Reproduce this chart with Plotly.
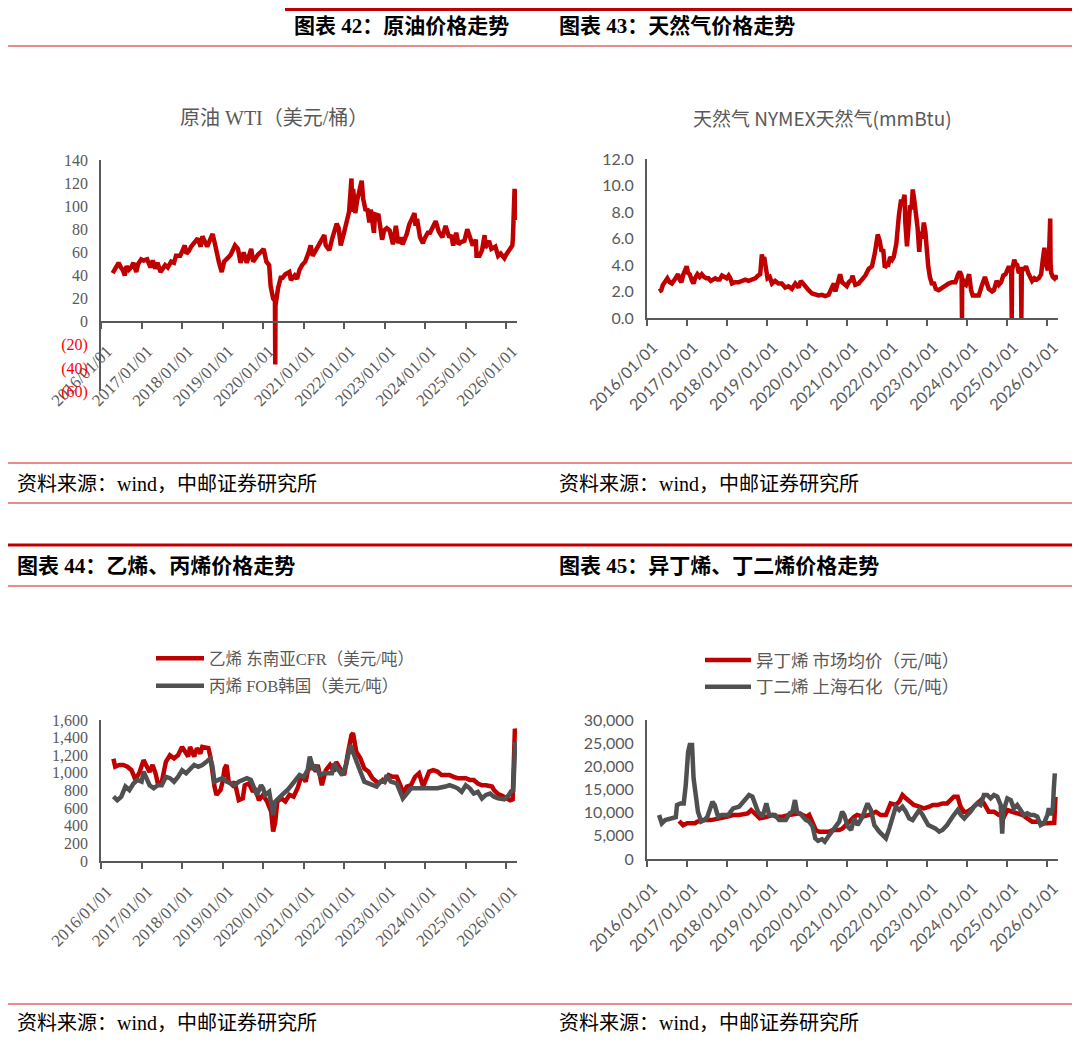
import plotly.graph_objs as go

# the page body keeps an 8px margin, so the figure is drawn 8px in from the window edge
OFF = 8
W, H = 1080 - OFF, 1048 - OFF
RED = '#C00000'
GREY = '#505050'
TXT = '#595959'
RULE = '#E06666'
SERIF = 'Liberation Serif, Noto Sans CJK SC'
SANS = 'Lato, Noto Sans CJK SC'
CJK = 'Noto Sans CJK SC'


def fx(x):  # window pixel -> paper x
    return (x - OFF) / W


def fy(y):  # window pixel -> paper y
    return 1 - (y - OFF) / H


years = list(range(2016, 2027))
tick_vals = ['%d-01-01' % y for y in years]
tick_text = ['%d/01/01' % y for y in years]
x_range = ['2016-01-01', '2026-04-08']

# ---- WTI crude (USD/bbl)
wti_dates = [
    '2016-04-15', '2016-05-01', '2016-05-20', '2016-06-08', '2016-06-28', '2016-07-15', '2016-08-02',
    '2016-08-18', '2016-09-08', '2016-09-28', '2016-10-19', '2016-11-14', '2016-12-01', '2016-12-28',
    '2017-01-20', '2017-02-20', '2017-03-22', '2017-04-12', '2017-05-04', '2017-05-24', '2017-06-21',
    '2017-07-14', '2017-08-01', '2017-08-25', '2017-09-25', '2017-10-20', '2017-11-07', '2017-12-15',
    '2018-01-25', '2018-02-09', '2018-03-02', '2018-03-23', '2018-04-18', '2018-05-22', '2018-06-18',
    '2018-07-03', '2018-08-15', '2018-09-05', '2018-10-03', '2018-10-25', '2018-11-15', '2018-11-30',
    '2018-12-24',
    '2019-01-15', '2019-02-15', '2019-03-15', '2019-04-23', '2019-05-20', '2019-06-12', '2019-07-10',
    '2019-08-07', '2019-09-16', '2019-10-03', '2019-11-15', '2019-12-20',
    '2020-01-06', '2020-01-31', '2020-02-25', '2020-03-09', '2020-03-20', '2020-04-01', '2020-04-17',
    '2020-04-20', '2020-04-22', '2020-04-30', '2020-05-15', '2020-06-08', '2020-06-25', '2020-07-20',
    '2020-08-25', '2020-09-08', '2020-10-12', '2020-11-02', '2020-11-25', '2020-12-18',
    '2021-01-15', '2021-02-15', '2021-03-05', '2021-03-23', '2021-04-20', '2021-05-18', '2021-06-15',
    '2021-07-06', '2021-07-19', '2021-08-20', '2021-09-15', '2021-10-26', '2021-11-12', '2021-12-01',
    '2021-12-28',
    '2022-01-26', '2022-02-14', '2022-03-08', '2022-03-16', '2022-03-23', '2022-04-11', '2022-04-28',
    '2022-05-17', '2022-06-08', '2022-06-22', '2022-07-14', '2022-07-29', '2022-08-16', '2022-08-29',
    '2022-09-26', '2022-10-07', '2022-11-07', '2022-12-09', '2022-12-28',
    '2023-01-20', '2023-02-15', '2023-03-17', '2023-04-12', '2023-05-03', '2023-05-26', '2023-06-12',
    '2023-07-20', '2023-08-10', '2023-09-27', '2023-10-06', '2023-10-20', '2023-11-16', '2023-12-12',
    '2023-12-28',
    '2024-01-25', '2024-02-14', '2024-03-19', '2024-04-05', '2024-05-03', '2024-06-04', '2024-07-03',
    '2024-08-05', '2024-08-23', '2024-09-10', '2024-10-07', '2024-10-28', '2024-11-20', '2024-12-20',
    '2025-01-15', '2025-02-10', '2025-03-05', '2025-04-02', '2025-04-08', '2025-05-05', '2025-05-28',
    '2025-06-20', '2025-06-25', '2025-07-30', '2025-08-20', '2025-09-25', '2025-10-20', '2025-11-12',
    '2025-12-15', '2025-12-31',
    '2026-01-15', '2026-02-05', '2026-02-25', '2026-03-02', '2026-03-05', '2026-03-09', '2026-03-12',
    '2026-03-17', '2026-03-20', '2026-03-24', '2026-03-27', '2026-03-31',
]
wti_vals = [
    42, 45, 48, 51, 47, 45, 40, 48, 45, 47, 51, 43, 50, 54,
    53, 54, 47, 53, 46, 51, 43, 46, 49, 47, 52, 51, 57, 57,
    66, 59, 61, 65, 68, 72, 65, 74, 65, 69, 76, 67, 56, 51, 43,
    52, 55, 58, 66, 63, 51, 60, 51, 63, 52, 58, 61,
    63, 52, 49, 31, 22, 20, 18, -37, 14, 19, 29, 38, 38, 41, 43, 36, 40, 37, 45, 49,
    52, 60, 66, 57, 62, 65, 72, 75, 66, 62, 72, 85, 81, 66, 76,
    87, 95, 124, 95, 115, 94, 105, 112, 122, 106, 96, 98, 86, 97, 77, 93, 92, 71, 79,
    81, 79, 67, 83, 68, 73, 67, 76, 84, 94, 83, 89, 73, 68, 72,
    77, 77, 83, 87, 78, 73, 83, 73, 75, 66, 77, 67, 69, 70,
    80, 72, 66, 71, 57, 57, 62, 75, 64, 70, 63, 65, 57, 59, 55, 58,
    60, 63, 66, 72, 88, 103, 92, 115, 96, 88, 104, 114,
]

# ---- NYMEX natural gas (USD/mmBtu)
gas_dates = [
    '2016-04-20', '2016-05-10', '2016-05-25', '2016-06-15', '2016-07-05', '2016-07-25', '2016-08-15',
    '2016-09-01', '2016-09-20', '2016-10-10', '2016-10-25', '2016-11-10', '2016-11-28', '2016-12-15',
    '2016-12-28',
    '2017-01-10', '2017-01-25', '2017-02-15', '2017-02-28', '2017-03-15', '2017-04-05', '2017-04-25',
    '2017-05-15', '2017-06-05', '2017-06-25', '2017-07-15', '2017-08-05', '2017-08-25', '2017-09-15',
    '2017-10-05', '2017-10-25', '2017-11-15', '2017-12-05', '2017-12-28',
    '2018-01-15', '2018-01-30', '2018-02-15', '2018-03-15', '2018-04-15', '2018-05-15', '2018-06-15',
    '2018-07-15', '2018-08-15', '2018-09-15', '2018-10-10', '2018-10-30', '2018-11-14', '2018-11-20',
    '2018-12-05', '2018-12-20',
    '2019-01-05', '2019-01-25', '2019-02-15', '2019-03-15', '2019-04-15', '2019-05-15', '2019-06-15',
    '2019-07-15', '2019-08-15', '2019-09-15', '2019-10-15', '2019-11-05', '2019-11-25', '2019-12-15',
    '2020-01-15', '2020-02-15', '2020-03-15', '2020-04-15', '2020-05-15', '2020-06-15', '2020-07-15',
    '2020-08-15', '2020-09-01', '2020-09-15', '2020-10-05', '2020-10-28', '2020-11-15', '2020-12-05',
    '2020-12-28',
    '2021-01-15', '2021-02-10', '2021-02-17', '2021-03-15', '2021-04-15', '2021-05-15', '2021-06-15',
    '2021-07-15', '2021-08-15', '2021-09-10', '2021-09-28', '2021-10-06', '2021-10-25', '2021-11-10',
    '2021-11-25', '2021-12-10', '2021-12-28',
    '2022-01-10', '2022-01-28', '2022-02-15', '2022-03-01', '2022-03-25', '2022-04-18', '2022-05-05',
    '2022-05-25', '2022-06-08', '2022-06-15', '2022-06-24', '2022-06-30', '2022-07-15', '2022-07-28',
    '2022-08-10', '2022-08-22', '2022-09-06', '2022-09-20', '2022-10-05', '2022-10-20', '2022-11-01',
    '2022-11-15', '2022-12-01', '2022-12-15', '2022-12-28',
    '2023-01-10', '2023-01-25', '2023-02-15', '2023-03-01', '2023-03-20', '2023-04-15', '2023-05-15',
    '2023-06-15', '2023-07-15', '2023-08-15', '2023-09-15', '2023-10-10', '2023-10-25', '2023-11-10',
    '2023-11-14', '2023-11-16', '2023-12-05', '2023-12-20',
    '2024-01-10', '2024-01-18', '2024-02-05', '2024-02-20', '2024-03-15', '2024-04-15', '2024-05-15',
    '2024-06-10', '2024-06-25', '2024-07-15', '2024-08-15', '2024-09-01', '2024-09-25', '2024-10-15',
    '2024-11-05', '2024-11-25', '2024-12-15', '2024-12-30',
    '2025-01-15', '2025-02-05', '2025-02-10', '2025-02-13', '2025-03-05', '2025-03-15', '2025-04-01',
    '2025-04-15', '2025-05-05', '2025-05-09', '2025-05-13', '2025-06-05', '2025-06-20', '2025-07-10',
    '2025-07-28', '2025-08-15', '2025-09-05', '2025-09-25', '2025-10-15', '2025-11-05', '2025-11-20',
    '2025-12-05', '2025-12-15', '2025-12-30',
    '2026-01-05', '2026-01-15', '2026-01-22', '2026-01-27', '2026-01-30', '2026-02-05', '2026-02-20',
    '2026-03-05', '2026-03-15', '2026-03-25', '2026-04-01',
]
gas_vals = [
    2.0, 2.1, 2.5, 2.8, 3.0, 2.7, 2.6, 2.8, 3.1, 3.3, 2.9, 2.7, 3.3, 3.6, 3.9,
    3.4, 3.3, 2.8, 2.6, 3.0, 3.3, 3.1, 3.3, 3.1, 3.0, 3.0, 2.8, 2.9, 3.0, 2.9, 2.9, 3.2, 3.1, 3.0,
    3.2, 3.0, 2.6, 2.7, 2.7, 2.8, 2.9, 2.8, 2.9, 3.0, 3.2, 3.3, 4.8, 4.4, 4.6, 3.7,
    3.0, 3.1, 2.6, 2.8, 2.6, 2.6, 2.3, 2.4, 2.2, 2.6, 2.3, 2.8, 2.6, 2.3,
    2.1, 1.85, 1.8, 1.7, 1.75, 1.65, 1.75, 2.3, 2.6, 2.0, 2.5, 3.3, 2.7, 2.5, 2.4,
    2.7, 2.9, 3.2, 2.5, 2.6, 2.9, 3.2, 3.7, 3.9, 4.9, 5.8, 6.3, 5.8, 5.0, 5.2, 3.8, 4.0,
    4.0, 4.6, 4.4, 4.6, 5.6, 7.8, 8.8, 8.8, 9.3, 7.2, 6.2, 5.4, 7.0, 8.5, 8.2, 9.7, 8.8, 7.9, 6.8,
    5.0, 6.5, 6.0, 7.2, 6.5, 4.7,
    3.9, 3.1, 2.5, 2.7, 2.2, 2.1, 2.3, 2.5, 2.6, 2.7, 2.7, 3.3, 3.5, 3.2, 0.0, 3.0, 2.6, 2.5,
    3.1, 3.3, 2.1, 1.7, 1.7, 1.7, 2.5, 3.1, 2.7, 2.2, 2.0, 2.1, 2.8, 2.5, 2.7, 3.2, 3.3, 3.7,
    3.9, 3.4, 0.0, 3.6, 4.4, 4.1, 4.0, 3.4, 3.6, 0.0, 3.7, 3.7, 3.9, 3.4, 3.1, 2.8, 3.0, 2.9, 3.0,
    3.3, 4.4, 5.3, 4.2, 3.8,
    3.6, 4.5, 5.5, 7.5, 4.2, 3.4, 3.1, 3.0, 3.2, 3.1, 2.9,
]

# ---- ethylene CFR SE Asia / propylene FOB Korea (USD/t)
eth_dates = [
    '2016-04-22', '2016-05-08', '2016-06-14', '2016-07-20', '2016-08-26', '2016-10-02', '2016-11-07',
    '2016-12-14',
    '2017-01-19', '2017-02-14', '2017-03-14', '2017-04-10', '2017-05-08', '2017-05-27', '2017-07-02',
    '2017-08-08', '2017-09-13', '2017-10-20', '2017-11-25',
    '2018-01-01', '2018-01-30', '2018-02-25', '2018-03-14', '2018-04-20', '2018-05-15', '2018-06-14',
    '2018-07-02', '2018-08-08', '2018-08-26', '2018-09-13', '2018-10-02', '2018-10-20', '2018-11-07',
    '2018-12-14',
    '2019-01-01', '2019-01-19', '2019-02-06', '2019-02-25', '2019-04-01', '2019-04-20', '2019-05-27',
    '2019-07-02', '2019-07-20', '2019-08-26', '2019-10-02', '2019-10-20', '2019-11-25',
    '2020-01-01', '2020-02-06', '2020-03-14', '2020-04-01', '2020-04-20', '2020-05-08', '2020-06-14',
    '2020-07-20', '2020-08-26', '2020-10-02', '2020-11-07', '2020-12-14',
    '2021-01-19', '2021-02-06', '2021-03-14', '2021-04-20', '2021-05-08', '2021-06-14', '2021-07-20',
    '2021-08-26', '2021-10-02', '2021-10-20', '2021-11-25',
    '2022-01-01', '2022-02-06', '2022-03-08', '2022-03-22', '2022-04-20', '2022-05-27', '2022-07-02',
    '2022-08-08', '2022-09-13', '2022-11-07', '2022-12-14',
    '2023-01-01', '2023-02-06', '2023-03-14', '2023-04-20', '2023-05-27', '2023-06-14', '2023-07-20',
    '2023-08-26', '2023-10-02', '2023-11-07', '2023-12-14',
    '2024-01-01', '2024-02-06', '2024-03-14', '2024-04-20', '2024-05-27', '2024-07-02', '2024-08-08',
    '2024-09-13', '2024-10-20', '2024-11-25',
    '2025-01-01', '2025-02-06', '2025-03-14', '2025-04-20', '2025-05-27', '2025-07-02', '2025-08-08',
    '2025-08-26', '2025-09-13', '2025-10-20', '2025-11-25',
    '2026-01-01', '2026-02-06', '2026-02-28', '2026-03-10', '2026-03-20', '2026-03-24',
]
eth_vals = [
    1160, 1070, 1090, 1090, 1070, 1030, 920, 1010,
    1145, 1090, 1010, 1090, 990, 880, 900, 1125, 1200, 1165, 1200,
    1295, 1240, 1185, 1295, 1185, 1280, 1220, 1295, 1280, 1280, 1185, 995, 845, 750, 805,
    900, 1050, 1090, 900, 860, 900, 690, 710, 860, 880, 785, 825, 690,
    750, 675, 560, 335, 445, 675, 710, 675, 750, 730, 825, 975,
    900, 1015, 1105, 1015, 1090, 860, 1030, 1090, 1015, 1125, 1050,
    975, 1240, 1430, 1450, 1240, 1165, 1050, 1015, 940, 880, 920,
    900, 975, 955, 955, 845, 765, 845, 860, 955, 995, 845,
    900, 1015, 1030, 1015, 975, 975, 975, 955, 940, 940,
    940, 920, 920, 880, 860, 860, 845, 845, 805, 760, 740,
    720, 690, 700, 1000, 1500, 1480,
]
pro_dates = [
    '2016-04-22', '2016-05-27', '2016-07-02', '2016-08-08', '2016-09-13', '2016-10-20', '2016-11-25',
    '2017-01-01', '2017-01-19', '2017-02-14', '2017-03-14', '2017-04-20', '2017-05-27', '2017-07-02',
    '2017-08-08', '2017-09-13', '2017-10-20', '2017-11-25',
    '2018-01-01', '2018-02-06', '2018-03-14', '2018-04-20', '2018-05-27', '2018-07-02', '2018-08-08',
    '2018-09-13', '2018-10-02', '2018-10-20', '2018-11-25',
    '2019-01-01', '2019-02-06', '2019-03-14', '2019-04-20', '2019-05-27', '2019-07-02', '2019-08-08',
    '2019-09-13', '2019-10-20', '2019-11-07', '2019-12-14',
    '2020-01-01', '2020-01-19', '2020-02-25', '2020-03-14', '2020-04-01', '2020-04-20', '2020-05-27',
    '2020-07-02', '2020-08-08', '2020-09-13', '2020-10-20', '2020-11-25',
    '2021-01-01', '2021-02-06', '2021-02-25', '2021-03-14', '2021-04-01', '2021-04-20', '2021-05-27',
    '2021-07-02', '2021-08-08', '2021-09-13', '2021-10-02', '2021-11-07', '2021-12-14',
    '2022-01-19', '2022-02-25', '2022-03-14', '2022-04-20', '2022-05-27', '2022-07-02', '2022-08-08',
    '2022-09-13', '2022-10-20', '2022-11-25',
    '2023-01-01', '2023-01-19', '2023-02-25', '2023-04-20', '2023-05-27', '2023-06-14', '2023-07-20',
    '2023-08-26', '2023-10-20', '2023-12-14',
    '2024-02-06', '2024-04-20', '2024-07-02', '2024-08-08', '2024-09-13', '2024-10-20', '2024-11-25',
    '2025-01-01', '2025-02-06', '2025-03-14', '2025-04-20', '2025-05-27', '2025-07-02', '2025-08-08',
    '2025-09-13', '2025-10-20', '2025-12-14',
    '2026-01-19', '2026-02-14', '2026-03-05', '2026-03-15', '2026-03-22',
]
pro_vals = [
    730, 690, 730, 845, 805, 880, 920,
    900, 1015, 940, 860, 825, 860, 860, 955, 940, 900, 955,
    1030, 995, 1050, 1090, 1070, 1090, 1125, 1165, 1070, 900, 920,
    940, 900, 880, 860, 900, 920, 940, 920, 805, 750, 860,
    825, 750, 785, 655, 520, 675, 730, 765, 805, 860, 900, 975,
    955, 1030, 1185, 1125, 1030, 1090, 975, 995, 995, 995, 1105, 1030, 975,
    1090, 1315, 1260, 1125, 1015, 900, 880, 860, 845, 900,
    900, 975, 900, 880, 765, 710, 765, 825, 825, 825,
    825, 825, 845, 860, 845, 825, 785,
    860, 825, 765, 785, 710, 750, 765, 730, 710, 700,
    740, 790, 800, 1100, 1350,
]

# ---- isobutylene market avg / butadiene Shanghai Petrochem (CNY/t)
ib_dates = [
    '2016-10-20', '2016-11-25',
    '2017-01-01', '2017-03-14', '2017-04-01', '2017-05-27', '2017-08-08', '2017-10-20', '2017-12-28',
    '2018-02-25', '2018-04-20', '2018-07-08', '2018-08-08', '2018-09-25', '2018-10-25', '2018-12-28',
    '2019-02-20', '2019-03-25', '2019-05-20', '2019-07-20', '2019-09-20', '2019-10-25', '2019-11-20',
    '2019-12-28',
    '2020-01-20', '2020-02-20', '2020-03-20', '2020-04-20', '2020-07-20', '2020-08-25', '2020-10-20',
    '2020-11-20',
    '2021-01-01', '2021-03-05', '2021-04-01', '2021-05-20', '2021-07-20', '2021-09-20', '2021-11-01',
    '2021-12-20',
    '2022-02-01', '2022-03-20', '2022-04-20', '2022-05-20', '2022-06-20', '2022-07-20', '2022-09-01',
    '2022-10-20', '2022-12-01',
    '2023-01-20', '2023-02-20', '2023-04-05', '2023-05-20', '2023-07-01', '2023-08-05', '2023-09-01',
    '2023-10-05', '2023-11-01', '2023-12-01',
    '2024-01-01', '2024-02-15', '2024-04-01', '2024-05-05', '2024-06-01', '2024-07-15', '2024-09-01',
    '2024-10-15', '2024-12-01',
    '2025-01-01', '2025-02-15', '2025-04-01', '2025-05-20', '2025-07-01', '2025-08-15', '2025-10-01',
    '2025-11-15',
    '2026-01-01', '2026-02-15', '2026-03-05', '2026-03-16',
]
ib_vals = [
    8200, 7300,
    7700, 7700, 8050, 8400, 8400, 8700, 9100,
    9500, 9500, 9850, 10570, 9500, 8770, 9130,
    9500, 9130, 9130, 9500, 9850, 9850, 9500, 9130,
    9500, 8050, 6260, 5900, 5900, 6260, 6260, 6600,
    7700, 9130, 9500, 9130, 9500, 10200, 9500, 9500,
    12000, 11650, 12370, 13800, 13100, 12370, 11650, 11290, 10930,
    11290, 11650, 11650, 12000, 12000, 12730, 13450, 13450, 11290, 10200,
    10200, 10930, 12000, 12730, 12000, 10200, 10200, 9500, 9130,
    10570, 10200, 9850, 9500, 8770, 8050, 8050, 7700,
    7700, 7700, 7800, 13400,
]
bd_dates = [
    '2016-04-20', '2016-05-15', '2016-06-15', '2016-08-01', '2016-09-20', '2016-10-01', '2016-11-01',
    '2016-12-01', '2016-12-20',
    '2017-01-10', '2017-01-25', '2017-02-15', '2017-03-01', '2017-04-10', '2017-05-10', '2017-06-10',
    '2017-07-05', '2017-08-20', '2017-09-10', '2017-10-10', '2017-11-10',
    '2018-01-10', '2018-02-25', '2018-04-20', '2018-05-25', '2018-07-20', '2018-08-20', '2018-10-10',
    '2018-11-20', '2018-12-25',
    '2019-01-20', '2019-03-15', '2019-04-20', '2019-06-20', '2019-07-25', '2019-08-20', '2019-09-12',
    '2019-10-01', '2019-11-10', '2019-12-20',
    '2020-01-20', '2020-02-20', '2020-03-15', '2020-04-10', '2020-05-15', '2020-06-10', '2020-07-10',
    '2020-09-05', '2020-10-20', '2020-11-15', '2020-12-05',
    '2021-01-05', '2021-02-05', '2021-03-05', '2021-04-05', '2021-05-20', '2021-07-05', '2021-08-05',
    '2021-09-05', '2021-10-20', '2021-11-15', '2021-12-20',
    '2022-01-20', '2022-02-20', '2022-03-20', '2022-04-20', '2022-05-20', '2022-06-20', '2022-07-20',
    '2022-08-20', '2022-09-20', '2022-10-20', '2022-11-20', '2022-12-20',
    '2023-01-10', '2023-03-15', '2023-04-20', '2023-05-20', '2023-07-01', '2023-08-20', '2023-10-05',
    '2023-11-05', '2023-12-05',
    '2024-01-01', '2024-02-01', '2024-03-01', '2024-04-01', '2024-05-01', '2024-06-01', '2024-07-01',
    '2024-08-01', '2024-09-01', '2024-10-01', '2024-11-01', '2024-11-15', '2024-11-25',
    '2025-01-01', '2025-02-01', '2025-03-01', '2025-04-01', '2025-05-01', '2025-06-01', '2025-07-01',
    '2025-08-01', '2025-09-01', '2025-10-01', '2025-11-01', '2025-12-01',
    '2026-01-01', '2026-01-15', '2026-02-01', '2026-02-20', '2026-03-01', '2026-03-10',
]
bd_vals = [
    9490, 7700, 8400, 8770, 9000, 11650, 12000, 12000, 16000,
    23150, 24590, 24590, 17400, 10210, 8050, 8410, 9130, 12370, 11650, 9130, 9490,
    9490, 10930, 11290, 12370, 13810, 13450, 10210, 9130, 12000,
    9500, 9500, 8410, 8410, 9850, 10210, 12730, 10210, 9490, 8410,
    8050, 7000, 4460, 3900, 4300, 3740, 4800, 6610, 8050, 10210, 9490,
    7000, 6260, 8770, 7330, 9130, 12000, 10570, 7330, 5900, 5180, 4460,
    6610, 9490, 11290, 10570, 11290, 10210, 8770, 8410, 9490, 10570, 9490, 8050,
    7330, 6610, 5900, 6260, 7330, 9130, 10570, 9490, 8770,
    9490, 10210, 11290, 12010, 11650, 13810, 13810, 13090, 13810, 13450, 11650, 5500, 10210,
    13090, 12730, 10930, 11650, 10570, 9490, 9850, 9490, 9490, 9130, 7330, 7690,
    9490, 10930, 9490, 11000, 15240, 18480,
]

wti_ticks = list(range(-60, 141, 20))
wti_text = ["<span style='color:#FF0000'>(%d)</span>" % -v if v < 0 else str(v) for v in wti_ticks]


def x_axis(left, right, anchor, family, size):
    return dict(domain=[fx(left), fx(right)], range=x_range, type='date', anchor=anchor,
                tickvals=tick_vals, ticktext=tick_text, tickangle=-45, automargin=False,
                showline=True, linecolor=TXT, linewidth=1.8, ticks='outside', ticklen=6,
                tickcolor=TXT, tickwidth=1.8, showgrid=False, zeroline=False,
                ticklabelshift=6, ticklabelstandoff=6,
                tickfont=dict(family=family, size=size, color=TXT))


def y_axis(top, bottom, anchor, family, rng):
    return dict(domain=[fy(bottom), fy(top)], range=rng, anchor=anchor, automargin=False,
                showline=True, linecolor=TXT, linewidth=1.8, ticks='', showgrid=False,
                zeroline=False, ticklabelstandoff=8,
                tickfont=dict(family=family, size=16, color=TXT))


fig = go.Figure()
fig.add_trace(go.Scatter(x=wti_dates, y=wti_vals, mode='lines', line=dict(color=RED, width=4.5),
                         xaxis='x', yaxis='y', showlegend=False))
fig.add_trace(go.Scatter(x=gas_dates, y=gas_vals, mode='lines', line=dict(color=RED, width=4.5),
                         xaxis='x2', yaxis='y2', showlegend=False))
fig.add_trace(go.Scatter(x=eth_dates, y=eth_vals, mode='lines', name='乙烯 东南亚CFR（美元/吨）',
                         line=dict(color=RED, width=4.5), xaxis='x3', yaxis='y3',
                         legend='legend', legendgroup='a'))
fig.add_trace(go.Scatter(x=pro_dates, y=pro_vals, mode='lines', name='丙烯 FOB韩国（美元/吨）',
                         line=dict(color=GREY, width=4.5), xaxis='x3', yaxis='y3',
                         legend='legend', legendgroup='b'))
fig.add_trace(go.Scatter(x=ib_dates, y=ib_vals, mode='lines', name='异丁烯 市场均价（元/吨）',
                         line=dict(color=RED, width=4.5), xaxis='x4', yaxis='y4',
                         legend='legend2', legendgroup='c'))
fig.add_trace(go.Scatter(x=bd_dates, y=bd_vals, mode='lines', name='丁二烯 上海石化（元/吨）',
                         line=dict(color=GREY, width=4.5), xaxis='x4', yaxis='y4',
                         legend='legend2', legendgroup='d'))

# chart 1: x axis sits on the y=0 line
x1 = x_axis(101, 517, 'y', SERIF, 17)
y1_bottom, y1_top = fy(391), fy(160)
x1.update(anchor='free', position=y1_bottom + (0 - (-60)) / 200 * (y1_top - y1_bottom))
y1 = y_axis(160, 391, 'x', SERIF, [-60, 140])
y1.update(tickvals=wti_ticks, ticktext=wti_text)

x2 = x_axis(647, 1058, 'y2', SANS, 16)
y2 = y_axis(159, 318, 'x2', SANS, [0, 12])
y2.update(dtick=2, tickformat='.1f')

x3 = x_axis(101, 517, 'y3', SERIF, 17)
y3 = y_axis(720, 861, 'x3', SERIF, [0, 1600])
y3.update(dtick=200, tickformat=',d')

x4 = x_axis(647, 1058, 'y4', SANS, 16)
y4 = y_axis(720, 859, 'x4', SANS, [0, 30000])
y4.update(dtick=5000, tickformat=',d')

shapes = []
for y0, x0, w, c in [(9.5, 285, 3, RED), (46, 8, 1.5, RULE), (463, 8, 1.5, RULE), (503, 8, 1.5, RULE),
                     (545, 8, 3, RED), (586, 8, 1.5, RULE), (1004, 8, 1.5, RULE)]:
    shapes.append(dict(type='line', xref='paper', yref='paper', x0=fx(x0), x1=1, y0=fy(y0), y1=fy(y0),
                       line=dict(color=c, width=w)))

annotations = []
for txt, x, y in [('图表 42：原油价格走势', 292, 26), ('图表 43：天然气价格走势', 557, 26),
                  ('图表 44：乙烯、丙烯价格走势', 15, 566), ('图表 45：异丁烯、丁二烯价格走势', 557, 566)]:
    annotations.append(dict(text='<b>%s</b>' % txt, x=fx(x), y=fy(y), xref='paper', yref='paper',
                            xanchor='left', yanchor='middle', showarrow=False,
                            font=dict(family=SERIF, size=21, color='black')))
for x, y in [(15, 484), (557, 484), (15, 1023), (557, 1023)]:
    annotations.append(dict(text='资料来源：wind，中邮证券研究所', x=fx(x), y=fy(y), xref='paper',
                            yref='paper', xanchor='left', yanchor='middle', showarrow=False,
                            font=dict(family=SERIF, size=20, color='black')))
annotations.append(dict(text='原油 WTI（美元/桶）', x=fx(274), y=fy(118), xref='paper', yref='paper',
                        xanchor='center', yanchor='middle', showarrow=False,
                        font=dict(family=SERIF, size=20, color=TXT)))
annotations.append(dict(text='天然气 NYMEX天然气(mmBtu)', x=fx(822), y=fy(118), xref='paper',
                        yref='paper', xanchor='center', yanchor='middle', showarrow=False,
                        font=dict(family=CJK, size=19, color=TXT)))

layout = go.Layout(
    width=W, height=H, margin=dict(l=0, r=0, t=0, b=0, pad=0, autoexpand=False),
    paper_bgcolor='white', plot_bgcolor='white',
    xaxis=x1, yaxis=y1, xaxis2=x2, yaxis2=y2, xaxis3=x3, yaxis3=y3, xaxis4=x4, yaxis4=y4,
    legend=dict(x=fx(151), y=fy(641), xanchor='left', yanchor='top', traceorder='grouped',
                tracegroupgap=3, itemwidth=48, bgcolor='rgba(0,0,0,0)',
                font=dict(family=SERIF, size=16.5, color=TXT)),
    legend2=dict(x=fx(700), y=fy(642), xanchor='left', yanchor='top', traceorder='grouped',
                 tracegroupgap=1, itemwidth=46, bgcolor='rgba(0,0,0,0)',
                 font=dict(family=CJK, size=17.5, color=TXT)),
    shapes=shapes, annotations=annotations, showlegend=True,
)

fig = go.Figure(data=fig.data, layout=layout)
fig.write_html('out.html')
